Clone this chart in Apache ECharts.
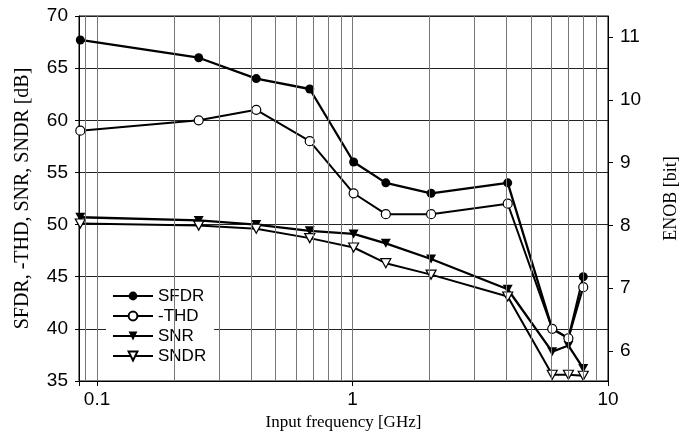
<!DOCTYPE html>
<html>
<head>
<meta charset="utf-8">
<script src="https://cdn.jsdelivr.net/npm/echarts@6/dist/echarts.min.js"></script>
<style>html,body{margin:0;padding:0;background:#fff}#c{width:690px;height:443px}</style>
</head>
<body>
<div id="c"></div>
<script>
const freq = [0.086, 0.25, 0.42, 0.68, 1.01, 1.35, 2.03, 4.05, 6.05, 7.0, 8.0];
const sfdr = [67.7, 66.0, 64.0, 63.0, 56.0, 54.0, 53.0, 54.0, 40.0, 39.1, 45.0];
const thd  = [59.0, 60.0, 61.0, 58.0, 53.0, 51.0, 51.0, 52.0, 40.0, 39.1, 44.0];
const snr  = [50.7, 50.4, 50.0, 49.4, 49.1, 48.2, 46.7, 43.8, 37.8, 38.4, 36.2];
const sndr = [50.1, 49.9, 49.6, 48.7, 47.8, 46.3, 45.2, 43.1, 35.6, 35.6, 35.5];
const seriesNames = ['SFDR', '-THD', 'SNR', 'SNDR'];
const xTickLabels = [0.1, 1, 10];
const xMinorGrid = [0.09, 0.2, 0.3, 0.4, 0.5, 0.6, 0.7, 0.8, 0.9, 2, 3, 4, 5, 6, 7, 8, 9];
const enobTicks = [6, 7, 8, 9, 10, 11];
const dbMin = 35, dbMax = 70;
const enobMin = (dbMin - 1.76) / 6.02, enobMax = (dbMax - 1.76) / 6.02;

const pair = ys => freq.map((f, i) => [f, ys[i]]);
const sans = 'Liberation Sans, Arial, sans-serif';
const serif = 'Liberation Serif, Times New Roman, serif';
const tri = 'path://M0,0L10,0L5,9Z';

const chart = echarts.init(document.getElementById('c'), null, {renderer: 'canvas'});
chart.setOption({
  animation: false,
  backgroundColor: '#fff',
  grid: {left: 79, right: 82, top: 16, bottom: 62, show: true, borderColor: '#000', borderWidth: 1},
  legend: {
    data: seriesNames,
    orient: 'vertical',
    left: 106, top: 285,
    padding: [2, 8, 6, 6],
    itemWidth: 40, itemHeight: 11, itemGap: 2,
    backgroundColor: '#fff',
    textStyle: {fontFamily: sans, fontSize: 17, color: '#000', lineHeight: 18}
  },
  xAxis: {
    type: 'log', logBase: 10, min: 0.085, max: 10,
    name: 'Input frequency [GHz]', nameLocation: 'middle', nameGap: 30,
    nameTextStyle: {fontFamily: serif, fontSize: 17, color: '#000'},
    axisLine: {show: true, lineStyle: {color: '#000', width: 1}},
    axisTick: {show: true, length: 5, lineStyle: {color: '#000'}},
    axisLabel: {
      fontFamily: sans, fontSize: 19, color: '#000', margin: 9,
      formatter: v => xTickLabels.some(t => Math.abs(t - v) / t < 1e-6) ? String(v) : ''
    },
    splitLine: {show: true, lineStyle: {color: '#777', width: 1}}
  },
  yAxis: [{
    type: 'value', min: dbMin, max: dbMax, interval: 5,
    name: 'SFDR, -THD, SNR, SNDR [dB]', nameLocation: 'middle', nameGap: 46,
    nameTextStyle: {fontFamily: serif, fontSize: 20, color: '#000'},
    axisLine: {show: true, lineStyle: {color: '#000', width: 1}},
    axisTick: {show: true, length: 4, lineStyle: {color: '#000'}},
    axisLabel: {fontFamily: sans, fontSize: 19, color: '#000', margin: 11},
    splitLine: {show: true, lineStyle: {color: '#222', width: 1}}
  }, {
    type: 'value', position: 'right', min: enobMin, max: enobMax,
    name: 'ENOB [bit]', nameLocation: 'middle', nameGap: 54, nameRotate: 90,
    nameTextStyle: {fontFamily: serif, fontSize: 18, color: '#000'},
    axisLine: {show: true, lineStyle: {color: '#000', width: 1}},
    axisTick: {show: true, length: 5, customValues: enobTicks, lineStyle: {color: '#000'}},
    axisLabel: {fontFamily: sans, fontSize: 19, color: '#000', margin: 12, customValues: enobTicks},
    splitLine: {show: false}
  }],
  series: [
    {
      name: 'grid', type: 'line', data: [], silent: true, z: 1,
      markLine: {
        silent: true, symbol: ['none', 'none'], animation: false,
        label: {show: false},
        lineStyle: {color: '#777', width: 1, type: 'solid'},
        data: xMinorGrid.map(v => ({xAxis: v}))
      }
    },
    {
      name: 'SFDR', type: 'line', data: pair(sfdr), z: 3,
      symbol: 'circle', symbolSize: 9,
      lineStyle: {color: '#000', width: 2.3},
      itemStyle: {color: '#000'}
    },
    {
      name: '-THD', type: 'line', data: pair(thd), z: 4,
      symbol: 'circle', symbolSize: 9,
      lineStyle: {color: '#000', width: 2},
      itemStyle: {color: '#fff', borderColor: '#000', borderWidth: 1.2}
    },
    {
      name: 'SNR', type: 'line', data: pair(snr), z: 3,
      symbol: tri, symbolSize: [10, 9],
      lineStyle: {color: '#000', width: 2.3},
      itemStyle: {color: '#000'}
    },
    {
      name: 'SNDR', type: 'line', data: pair(sndr), z: 4,
      symbol: tri, symbolSize: [10, 9],
      lineStyle: {color: '#000', width: 2},
      itemStyle: {color: '#fff', borderColor: '#000', borderWidth: 1.2}
    }
  ]
});
</script>
</body>
</html>
